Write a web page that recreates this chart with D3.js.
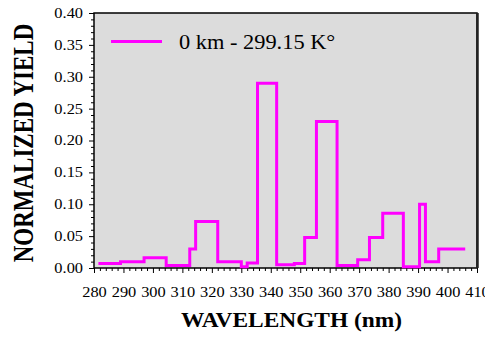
<!DOCTYPE html>
<html>
<head>
<meta charset="utf-8">
<script src="https://cdn.jsdelivr.net/npm/d3@7"></script>
<style>
  html, body { margin: 0; padding: 0; background: #ffffff; }
  svg { display: block; }
  text { font-family: "Liberation Serif", "Times New Roman", serif; fill: #000; }
</style>
</head>
<body>
<svg id="chart" width="485" height="344"></svg>
<script>
// Wavelength bin edges (nm) and the normalized yield held across each bin
const binEdges = [281.5, 289, 297, 304.5, 312.5, 314.5, 322, 330, 332, 335.5, 342,
                  348, 351.5, 355.5, 362.5, 369.5, 373.5, 378, 385, 390.5, 392.5, 397, 406];
const yieldValues = [0.007, 0.010, 0.016, 0.004, 0.030, 0.073, 0.010, 0.002, 0.008, 0.290, 0.005,
                     0.007, 0.048, 0.230, 0.004, 0.013, 0.048, 0.086, 0.002, 0.100, 0.010, 0.030];
const xTicks = [280, 290, 300, 310, 320, 330, 340, 350, 360, 370, 380, 390, 400, 410];
const yTicks = [0.00, 0.05, 0.10, 0.15, 0.20, 0.25, 0.30, 0.35, 0.40];
const seriesLabel = "0 km - 299.15 K\u00B0";
const xTitle = "WAVELENGTH (nm)";
const yTitle = "NORMALIZED YIELD";

const plot = { left: 94, top: 13, right: 477, bottom: 268 };
const stretch = 1.17;
const lineColor = "#ff00ff";

const svg = d3.select("#chart");

const x = d3.scaleLinear().domain([280, 410]).range([plot.left, plot.right]);
const y = d3.scaleLinear().domain([0, 0.40]).range([plot.bottom, plot.top]);

// plot background
svg.append("rect")
  .attr("x", plot.left).attr("y", plot.top)
  .attr("width", plot.right - plot.left).attr("height", plot.bottom - plot.top)
  .attr("fill", "#dcdcdc");

// minor ticks
const xMinor = d3.range(280, 410.1, 2).filter(v => v % 10 !== 0);
const yMinor = d3.range(0, 0.401, 0.01).filter(v => Math.abs(v * 20 - Math.round(v * 20)) > 1e-6);

svg.append("g")
  .attr("transform", `translate(0,${plot.bottom})`)
  .call(d3.axisBottom(x).tickValues(xMinor).tickSize(3).tickSizeOuter(0).tickFormat(""))
  .call(g => g.select(".domain").remove());
svg.append("g")
  .attr("transform", `translate(${plot.left},0)`)
  .call(d3.axisLeft(y).tickValues(yMinor).tickSize(3).tickSizeOuter(0).tickFormat(""))
  .call(g => g.select(".domain").remove());

// major ticks and labels
const xAxis = svg.append("g")
  .attr("transform", `translate(0,${plot.bottom})`)
  .call(d3.axisBottom(x).tickValues(xTicks).tickSize(5).tickSizeOuter(0).tickFormat(d3.format("d")));
xAxis.select(".domain").remove();
xAxis.selectAll("text")
  .attr("y", 19)
  .attr("font-size", 14)
  .attr("font-family", "Liberation Serif")
  .attr("transform", `scale(${stretch},1)`);

const yAxis = svg.append("g")
  .attr("transform", `translate(${plot.left},0)`)
  .call(d3.axisLeft(y).tickValues(yTicks).tickSize(5).tickSizeOuter(0).tickFormat(d3.format(".2f")));
yAxis.select(".domain").remove();
yAxis.selectAll(".tick text")
  .attr("x", -11 / stretch)
  .attr("font-size", 14)
  .attr("font-family", "Liberation Serif")
  .attr("transform", `scale(${stretch},1)`);

// frame
svg.append("rect")
  .attr("x", plot.left).attr("y", plot.top)
  .attr("width", plot.right - plot.left).attr("height", plot.bottom - plot.top)
  .attr("fill", "none").attr("stroke", "#000").attr("stroke-width", 1.5);
svg.append("line")
  .attr("x1", plot.right + 0.5).attr("x2", plot.right + 0.5)
  .attr("y1", plot.top).attr("y2", plot.bottom)
  .attr("stroke", "#222").attr("stroke-width", 2.5);

// step series
const stepPoints = binEdges.map((e, i) => [e, i < yieldValues.length ? yieldValues[i] : yieldValues[yieldValues.length - 1]]);
const stepLine = d3.line()
  .x(d => x(d[0]))
  .y(d => y(d[1]))
  .curve(d3.curveStepAfter);
svg.append("path")
  .datum(stepPoints)
  .attr("d", stepLine)
  .attr("fill", "none")
  .attr("stroke", lineColor)
  .attr("stroke-width", 3)
  .attr("stroke-linejoin", "miter");

// legend
svg.append("line")
  .attr("x1", 111).attr("x2", 162)
  .attr("y1", 41.5).attr("y2", 41.5)
  .attr("stroke", lineColor).attr("stroke-width", 3);
svg.append("text")
  .attr("transform", `translate(179,49) scale(1.12,1)`)
  .attr("font-size", 20)
  .text(seriesLabel);

// axis titles
svg.append("text")
  .attr("transform", `translate(291.5,327) scale(${stretch},1)`)
  .attr("text-anchor", "middle")
  .attr("font-size", 20)
  .attr("font-weight", "bold")
  .text(xTitle);
svg.append("text")
  .attr("transform", "translate(33,143) rotate(-90) scale(1,1.3)")
  .attr("text-anchor", "middle")
  .attr("font-size", 23)
  .attr("font-weight", "bold")
  .text(yTitle);
</script>
</body>
</html>
